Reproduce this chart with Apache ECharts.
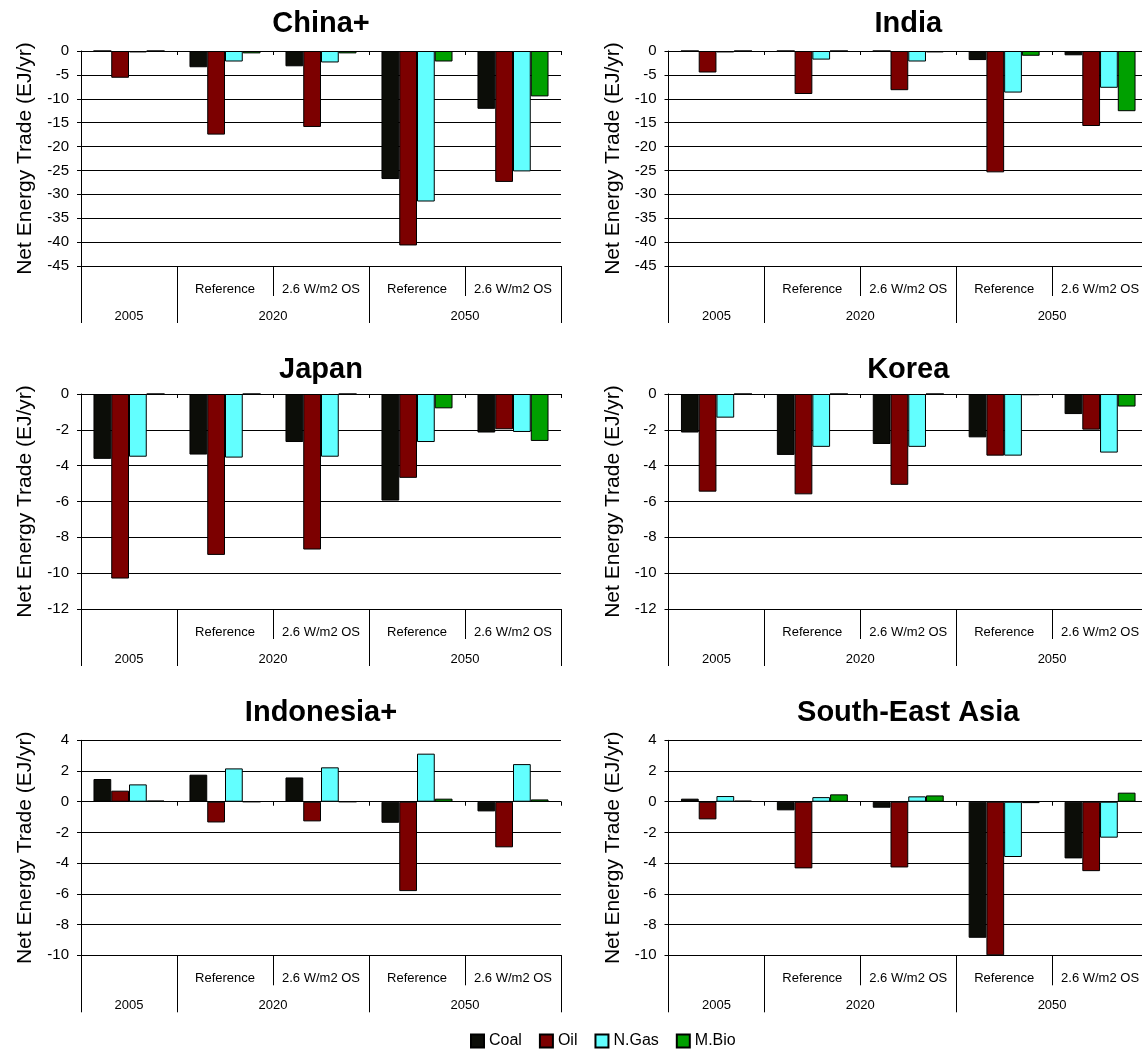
<!DOCTYPE html>
<html>
<head>
<meta charset="utf-8">
<script src="https://cdn.jsdelivr.net/npm/echarts@6/dist/echarts.min.js"></script>
<style>
html,body{margin:0;padding:0;background:#ffffff;}
#chart{width:1142px;height:1049px;}
</style>
</head>
<body>
<div id="chart"></div>
<script>
// ---- Data ----
const scenarioLabels = ['', 'Reference', '2.6 W/m2 OS', 'Reference', '2.6 W/m2 OS'];
const yearLabels = ['', '2005', '', '', '2020', '', '', '', '2050', '', ''];
const seriesNames = ['Coal', 'Oil', 'N.Gas', 'M.Bio'];
const regionTitles = ['China+', 'India', 'Japan', 'Korea', 'Indonesia+', 'South-East Asia'];
const axisName = 'Net Energy Trade (EJ/yr)';

const chinaCoal = [0, -3.4, -3.2, -26.8, -12.1];
const chinaOil  = [-5.6, -17.5, -15.9, -40.7, -27.4];
const chinaGas  = [-0.3, -2.2, -2.4, -31.5, -25.2];
const chinaBio  = [0, -0.5, -0.5, -2.2, -9.5];

const indiaCoal = [0, 0, 0, -1.9, -0.9];
const indiaOil  = [-4.5, -9.0, -8.2, -25.4, -15.7];
const indiaGas  = [-0.3, -1.8, -2.2, -8.7, -7.7];
const indiaBio  = [0, 0, -0.3, -1.0, -12.6];

const japanCoal = [-3.62, -3.38, -2.68, -5.95, -2.15];
const japanOil  = [-10.3, -8.98, -8.68, -4.68, -1.97];
const japanGas  = [-3.5, -3.55, -3.5, -2.68, -2.12];
const japanBio  = [0, 0, 0, -0.8, -2.62];

const koreaCoal = [-2.15, -3.4, -2.79, -2.42, -1.12];
const koreaOil  = [-5.45, -5.6, -5.07, -3.44, -1.99];
const koreaGas  = [-1.32, -2.95, -2.95, -3.44, -3.27];
const koreaBio  = [0, 0, 0, -0.07, -0.7];

const indonesiaCoal = [1.48, 1.76, 1.58, -1.37, -0.63];
const indonesiaOil  = [0.72, -1.35, -1.28, -5.82, -2.97];
const indonesiaGas  = [1.13, 2.17, 2.24, 3.13, 2.45];
const indonesiaBio  = [0.08, 0, 0, 0.2, 0.15];

const seAsiaCoal = [0.2, -0.56, -0.39, -8.86, -3.69];
const seAsiaOil  = [-1.15, -4.34, -4.28, -10.0, -4.52];
const seAsiaGas  = [0.37, 0.3, 0.35, -3.6, -2.34];
const seAsiaBio  = [0.07, 0.48, 0.41, -0.09, 0.59];

const yMins  = [-45, -45, -12, -12, -10, -10];
const yMaxs  = [0, 0, 0, 0, 4, 4];
const ySteps = [5, 5, 2, 2, 2, 2];

// ---- Styling / layout ----
const FONT = "'Liberation Sans', Arial, Helvetica, sans-serif";
const colors = ['#0c0d08', '#7c0000', '#62ffff', '#00a000'];
const colLeft = [81, 668.5];
const colWidth = [480, 479.5];
const rowTop = [51, 394, 740.3];
const rowTitleY = [24, 370, 712.5];
const plotHeight = 215;

const panelSeries = [
  [chinaCoal, chinaOil, chinaGas, chinaBio],
  [indiaCoal, indiaOil, indiaGas, indiaBio],
  [japanCoal, japanOil, japanGas, japanBio],
  [koreaCoal, koreaOil, koreaGas, koreaBio],
  [indonesiaCoal, indonesiaOil, indonesiaGas, indonesiaBio],
  [seAsiaCoal, seAsiaOil, seAsiaGas, seAsiaBio]
];

const option = {
  animation: false,
  backgroundColor: '#ffffff',
  textStyle: { fontFamily: FONT, color: '#000' },
  title: [],
  grid: [],
  xAxis: [],
  yAxis: [],
  series: [],
  legend: {
    data: seriesNames,
    left: 470,
    top: 1033,
    padding: 0,
    icon: 'rect',
    itemWidth: 13,
    itemHeight: 13,
    itemGap: 17,
    textStyle: { fontSize: 16, color: '#000', fontFamily: FONT }
  }
};

const fullTicks = [0, 1, 3];

for (let i = 0; i < 6; i++) {
  const col = i % 2, row = Math.floor(i / 2);
  option.title.push({
    text: regionTitles[i],
    left: colLeft[col] + colWidth[col] / 2,
    top: rowTitleY[row],
    textAlign: 'center',
    textVerticalAlign: 'middle',
    padding: 0,
    textStyle: { fontSize: 29, fontWeight: 'bold', color: '#000', fontFamily: FONT }
  });
  option.grid.push({
    left: colLeft[col], width: colWidth[col],
    top: rowTop[row], height: plotHeight,
    containLabel: false,
    outerBoundsMode: 'none'
  });
  option.yAxis.push({
    type: 'value', gridIndex: i,
    min: yMins[i], max: yMaxs[i], interval: ySteps[i],
    name: axisName, nameLocation: 'middle', nameGap: 45,
    nameTextStyle: { fontSize: 21, color: '#000', fontFamily: FONT },
    axisLine: { show: true, lineStyle: { color: '#000', width: 1 } },
    axisTick: { show: true, length: 4, lineStyle: { color: '#000' } },
    axisLabel: { fontSize: 15, color: '#000', margin: 12, fontFamily: FONT },
    splitLine: { show: true, lineStyle: { color: '#000', width: 1 } }
  });
  // scenario row with long separators
  option.xAxis.push({
    type: 'category', gridIndex: i, data: scenarioLabels, position: 'bottom',
    axisLine: { show: true, onZero: false, lineStyle: { color: '#000', width: 1 } },
    axisTick: { show: true, length: 57, interval: function (idx) { return fullTicks.indexOf(idx) >= 0; }, lineStyle: { color: '#000', width: 1 } },
    axisLabel: { show: true, interval: 0, fontSize: 13, color: '#000', margin: 17, fontFamily: FONT },
    splitLine: { show: false }
  });
  // short separators under scenario labels
  option.xAxis.push({
    type: 'category', gridIndex: i, data: scenarioLabels, position: 'bottom',
    axisLine: { show: false, onZero: false },
    axisTick: { show: true, length: 30, interval: 0, lineStyle: { color: '#000', width: 1 } },
    axisLabel: { show: false },
    splitLine: { show: false }
  });
  // year row labels
  option.xAxis.push({
    type: 'category', gridIndex: i, data: yearLabels, position: 'bottom', boundaryGap: false,
    axisLine: { show: false, onZero: false },
    axisTick: { show: false },
    axisLabel: { show: true, interval: 0, fontSize: 13, color: '#000', margin: 44, fontFamily: FONT },
    splitLine: { show: false }
  });
  // axis crossing at zero with small ticks
  option.xAxis.push({
    type: 'category', gridIndex: i, data: scenarioLabels, position: 'bottom',
    axisLine: { show: true, onZero: true, lineStyle: { color: '#000', width: 1 } },
    axisTick: { show: true, length: 4, interval: 0, lineStyle: { color: '#000', width: 1 } },
    axisLabel: { show: false },
    splitLine: { show: false }
  });
  for (let s = 0; s < 4; s++) {
    option.series.push({
      type: 'bar',
      name: seriesNames[s],
      xAxisIndex: i * 4,
      yAxisIndex: i,
      data: panelSeries[i][s],
      barGap: '0%',
      barCategoryGap: '26%',
      itemStyle: { color: colors[s], borderColor: '#000', borderWidth: 1 },
      emphasis: { disabled: true }
    });
  }
}

const chart = echarts.init(document.getElementById('chart'), null, { renderer: 'canvas' });
chart.setOption(option);
</script>
</body>
</html>
